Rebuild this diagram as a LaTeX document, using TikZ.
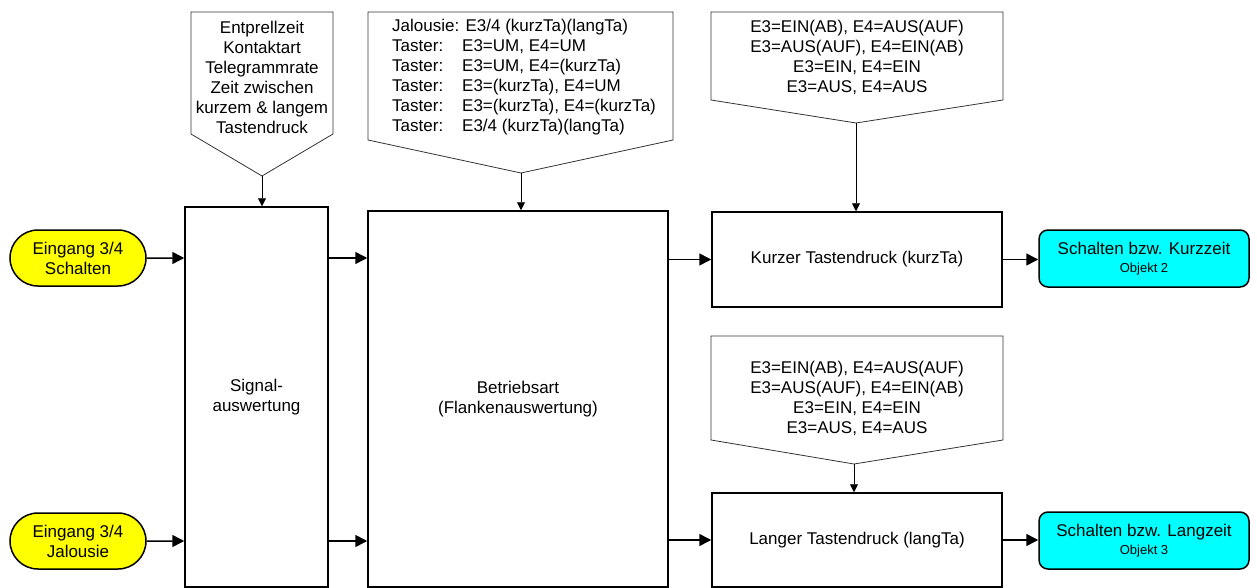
\documentclass[tikz,border=0pt]{standalone}
\usepackage{fontspec}
\setmainfont{Liberation Sans}
\usetikzlibrary{arrows.meta}
\usetikzlibrary{shapes.misc}
\definecolor{tuerkis}{RGB}{0,255,255}
\definecolor{gelb}{RGB}{255,255,0}
\tikzset{
    every node/.style={
        font=\fontsize{17}{20}\selectfont},
    block/.style={
        draw,
        line width=1.5pt,
        inner sep=0pt,
        align=center},
    eingang/.style={
        rounded rectangle,
        draw,
        line width=1.5pt,
        fill=gelb,
        minimum width=136pt,
        minimum height=56pt,
        inner sep=0pt,
        align=center},
    ausgang/.style={
        draw,
        line width=1.5pt,
        fill=tuerkis,
        rounded corners=9pt,
        minimum width=210pt,
        minimum height=57pt,
        inner sep=0pt,
        align=center},
    param/.style={
        draw=black!80,
        line width=0.8pt},
    paramtext/.style={
        inner sep=0pt,
        align=center},
    pfeil/.style={
        draw,
        line width=1.5pt,
        -{Triangle[length=12pt,width=12pt]}},
    pfeilklein/.style={
        draw,
        line width=0.8pt,
        -{Triangle[length=8pt,width=8pt]}}}
\newcommand{\klein}{\fontsize{13}{15}\selectfont}
\newcommand{\taster}[1]{\makebox[70pt][l]{#1}}

\begin{document}
\begin{tikzpicture}[x=1pt,y=-1pt]
        \useasboundingbox (0,0) rectangle (1257,588);

        % Eingaenge und Ausgaenge
        \node[eingang] (ein1) at (78,258) {Eingang 3/4\\Schalten};
        \node[eingang] (ein2) at (78,541) {Eingang 3/4\\Jalousie};
        \node[ausgang] (aus1) at (1144,258.5) {Schalten bzw. Kurzzeit\\[-2pt]{\klein Objekt 2}};
        \node[ausgang] (aus2) at (1144,540.5) {Schalten bzw. Langzeit\\[-2pt]{\klein Objekt 3}};

        % Bloecke
        \node[block,minimum width=143pt,minimum height=380pt] (sig) at (256.5,397) {Signal-\\auswertung};
        \node[block,minimum width=300pt,minimum height=376pt] (betr) at (518,399) {Betriebsart\\(Flankenauswertung)};
        \node[block,minimum width=290pt,minimum height=95pt] (kurz) at (857,259.5) {Kurzer Tastendruck (kurzTa)};
        \node[block,minimum width=290pt,minimum height=94pt] (lang) at (857,540) {Langer Tastendruck (langTa)};

        % Parameter
        \draw[param] (191,12) -- (333,12) -- (333,134) -- (262,176) -- (191,134) -- cycle;
        \coordinate (parsig) at (262,176);
        \node[paramtext] (txtsig) at (262,77.5) {Entprellzeit\\Kontaktart\\Telegrammrate\\Zeit zwischen\\kurzem \& langem\\Tastendruck};

        \draw[param] (368,12) -- (673,12) -- (673,140) -- (521,173) -- (368,140) -- cycle;
        \coordinate (parbetr) at (521,173);
        \node[paramtext,align=left,anchor=west] (txtbetr) at (392,77) {Jalousie: E3/4 (kurzTa)(langTa)\\
            \taster{Taster:}E3=UM, E4=UM\\
            \taster{Taster:}E3=UM, E4=(kurzTa)\\
            \taster{Taster:}E3=(kurzTa), E4=UM\\
            \taster{Taster:}E3=(kurzTa), E4=(kurzTa)\\
            \taster{Taster:}E3/4 (kurzTa)(langTa)};

        \draw[param] (711,12) -- (1003,12) -- (1003,100) -- (856,123) -- (711,100) -- cycle;
        \coordinate (parkurz) at (856,123);
        \node[paramtext] (txtkurz) at (857,57) {E3=EIN(AB), E4=AUS(AUF)\\E3=AUS(AUF), E4=EIN(AB)\\E3=EIN, E4=EIN\\E3=AUS, E4=AUS};

        \draw[param] (711,336) -- (1003,336) -- (1003,440) -- (854,464) -- (711,440) -- cycle;
        \coordinate (parlang) at (854,464);
        \node[paramtext] (txtlang) at (857,398) {E3=EIN(AB), E4=AUS(AUF)\\E3=AUS(AUF), E4=EIN(AB)\\E3=EIN, E4=EIN\\E3=AUS, E4=AUS};

        % Verbindungen
        \draw[pfeil] (ein1) -- (ein1 -| sig.west);
        \draw[pfeil] (ein2) -- (ein2 -| sig.west);
        \draw[pfeil] (sig.east |- ein1) -- (betr.west |- ein1);
        \draw[pfeil] (sig.east |- ein2) -- (betr.west |- ein2);
        \draw[pfeil] (betr.east |- kurz) -- (kurz.west);
        \draw[pfeil] (betr.east |- lang) -- (lang.west);
        \draw[pfeil] (kurz.east) -- (aus1.west |- kurz);
        \draw[pfeil] (lang.east) -- (aus2.west |- lang);

        \draw[pfeilklein] (parsig) -- (parsig |- sig.north);
        \draw[pfeilklein] (parbetr) -- (parbetr |- betr.north);
        \draw[pfeilklein] (parkurz) -- (parkurz |- kurz.north);
        \draw[pfeilklein] (parlang) -- (parlang |- lang.north);
    \end{tikzpicture}
\end{document}
